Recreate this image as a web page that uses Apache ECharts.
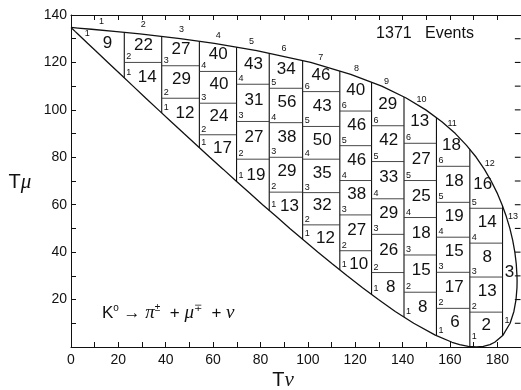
<!DOCTYPE html>
<html>
<head>
<meta charset="utf-8">
<script src="https://cdn.jsdelivr.net/npm/echarts@6/dist/echarts.min.js"></script>
<style>
  html, body { margin: 0; padding: 0; background: #fff; overflow: hidden; }
  #chart { width: 521px; height: 390px; }
</style>
</head>
<body>
<div id="chart"></div>
<script>
// Dalitz plot of K0 -> pi mu nu : T_nu (x, MeV) vs T_mu (y, MeV)

// Kinematic boundary, upper branch (from the apex to the right-most point)
const upperBoundary = [
  [0, 134.74], [2.91, 134.5], [8.65, 134], [19.33, 133], [29.06, 132], [46.1, 130],
  [60.5, 128], [78.4, 125], [101.2, 120], [118.1, 115], [131.2, 110], [141.5, 105],
  [149.8, 100], [156.6, 95], [162.3, 90], [167.0, 85], [171.1, 80], [174.5, 75],
  [177.4, 70], [179.9, 65], [182.0, 60], [183.8, 55], [185.3, 50], [186.5, 45],
  [187.4, 40], [188.0, 35], [188.3, 30], [188.35, 27.8]
];
// Kinematic boundary, lower branch (from the apex round the bottom to the right-most point)
const lowerBoundary = [
  [0, 134.74], [0.26, 134.5], [0.78, 134], [1.83, 133], [2.89, 132], [5.0, 130],
  [7.1, 128], [10.27, 125], [15.6, 120], [20.9, 115], [26.2, 110], [31.5, 105],
  [36.9, 100], [42.3, 95], [47.7, 90], [53.2, 85], [58.6, 80], [64.2, 75],
  [69.7, 70], [75.3, 65], [80.9, 60], [86.7, 55], [92.4, 50], [98.3, 45],
  [104.3, 40], [110.4, 35], [116.6, 30], [123.1, 25], [129.8, 20], [136.9, 15],
  [144.7, 10], [153.8, 5], [160.9, 2], [164.1, 1], [167.75, 0.25], [171.1, 0],
  [174.1, 0.25], [176.9, 1], [178.9, 2], [182.4, 5], [185.4, 10], [187.0, 15],
  [187.9, 20], [188.3, 25], [188.35, 27.8]
];

// Column edges along T_nu
const columnEdges = [0, 22.5, 38.3, 54.2, 69.9, 83.7, 97.8, 113.5, 126.9, 140.6, 154.3, 168.4, 182.2, 188.35];

// Bin edges along T_mu inside each column, bottom to top
const binEdges = [
  [],
  [120.0],
  [104.9, 118.6],
  [89.5, 102.8, 116.2],
  [79.2, 95.1, 110.8],
  [65.3, 80.0, 94.6, 109.1],
  [51.5, 65.1, 79.2, 93.0, 107.7],
  [40.6, 55.7, 70.2, 84.9, 99.5],
  [31.4, 47.5, 62.5, 78.2, 93.3],
  [23.1, 38.8, 54.6, 70.2, 85.9],
  [16.3, 31.5, 46.3, 61.0, 76.2],
  [14.7, 29.5, 43.8, 58.5],
  []
];

// Events in each cell, bottom to top (1371 in total)
const counts = [
  [9],
  [14, 22],
  [12, 29, 27],
  [17, 24, 40, 40],
  [19, 27, 31, 43],
  [13, 29, 38, 56, 34],
  [12, 32, 35, 50, 43, 46],
  [10, 27, 38, 46, 46, 40],
  [8, 26, 29, 33, 42, 29],
  [8, 15, 18, 25, 27, 13],
  [6, 17, 15, 19, 18, 18],
  [2, 13, 8, 14, 16],
  [3]
];

// Column numbers written along the upper boundary
const columnNames = [1, 2, 3, 4, 5, 6, 7, 8, 9, 10, 11, 12, 13];
const columnNameX = [12.9, 30.5, 46.7, 62.2, 76.2, 89.9, 105.4, 120.5, 133.2, 148.0, 160.9, 176.8, 186.6];
const columnNameY = [137.3, 135.9, 133.8, 131.2, 128.8, 126.0, 122.2, 117.6, 111.9, 104.5, 94.1, 77.5, 55.0];

// Tick labels
const xTickLabels = [0, 20, 40, 60, 80, 100, 120, 140, 160, 180];
const yTickLabels = [20, 40, 60, 80, 100, 120, 140];

// Axis ranges
const X_MAX = 190, Y_MAX = 140, TICK_STEP = 10;

// ---- geometry helpers ----
function curveAt(branch, x) {
  if (x <= branch[0][0]) return branch[0][1];
  for (let i = 1; i < branch.length; i++) {
    const a = branch[i - 1], b = branch[i];
    if (x <= b[0]) return b[0] === a[0] ? b[1] : a[1] + (b[1] - a[1]) * (x - a[0]) / (b[0] - a[0]);
  }
  return branch[branch.length - 1][1];
}
function cellCentre(xl, xr, yb, yt) {
  let area = 0, sx = 0, sy = 0;
  const n = 80;
  for (let i = 0; i < n; i++) {
    const x = xl + (i + 0.5) * (xr - xl) / n;
    const lo = Math.max(yb, curveAt(lowerBoundary, x));
    const hi = Math.min(yt, curveAt(upperBoundary, x));
    if (hi > lo) { const h = hi - lo; area += h; sx += x * h; sy += (hi + lo) / 2 * h; }
  }
  return [sx / area, sy / area];
}

// ---- derived drawing data ----
const edgeSegments = [];
for (let i = 1; i < columnEdges.length - 1; i++) {
  const x = columnEdges[i];
  edgeSegments.push([x, curveAt(lowerBoundary, x), x, curveAt(upperBoundary, x)]);
}
// short ticks along the right-hand frame (the frame line itself sits on the page edge)
for (let v = TICK_STEP; v < Y_MAX; v += TICK_STEP) {
  edgeSegments.push([X_MAX - 2.6, v, X_MAX - 0.2, v]);
}

const binSegments = [];
const countData = [];
const tagData = [];
counts.forEach((col, c) => {
  const xl = columnEdges[c], xr = columnEdges[c + 1];
  const edges = binEdges[c];
  edges.forEach(y => binSegments.push([xl, y, xr, y]));
  col.forEach((n, k) => {
    const yb = k === 0 ? -10 : edges[k - 1];
    const yt = k === edges.length ? 200 : edges[k];
    const ctr = cellCentre(xl, xr, yb, yt);
    countData.push([ctr[0], ctr[1], n]);
    let tx = xl, ty;
    if (k === 0) {
      if (c === 0) tx = 5;
      ty = Math.max(curveAt(lowerBoundary, tx), curveAt(lowerBoundary, tx + 2.5), 2.2);
    } else {
      ty = edges[k - 1];
    }
    tagData.push([tx, ty, k + 1]);
  });
});
const columnNameData = columnNames.map((s, i) => [columnNameX[i], columnNameY[i], s]);

const INK = '#111';
const FONT = '"Liberation Sans", Arial, sans-serif';

function textRenderer(size, align, vAlign, dx, dy) {
  return function (params, api) {
    const p = api.coord([api.value(0), api.value(1)]);
    return {
      type: 'text',
      x: p[0] + dx, y: p[1] + dy,
      style: {
        text: String(api.value(2)),
        font: size + 'px ' + FONT,
        fill: INK,
        align: align, verticalAlign: vAlign,
        textAlign: align, textVerticalAlign: vAlign
      }
    };
  };
}
function segmentRenderer(color, width) {
  return function (params, api) {
    const a = api.coord([api.value(0), api.value(1)]);
    const b = api.coord([api.value(2), api.value(3)]);
    return {
      type: 'line',
      shape: { x1: a[0], y1: a[1], x2: b[0], y2: b[1] },
      style: { stroke: color, lineWidth: width, fill: null }
    };
  };
}

const axisCommon = {
  type: 'value',
  splitLine: { show: false },
  axisLine: { show: true, onZero: false, lineStyle: { color: INK, width: 1 } },
  axisTick: { show: true, inside: true, length: 5, lineStyle: { color: INK, width: 1 } }
};

const chart = echarts.init(document.getElementById('chart'), null, { renderer: 'canvas' });
chart.setOption({
  animation: false,
  backgroundColor: '#fff',
  grid: { left: 71, top: 15, width: 450, height: 332, containLabel: false, outerBoundsMode: 'none' },
  xAxis: [
    Object.assign({}, axisCommon, {
      position: 'bottom', min: 0, max: X_MAX, interval: TICK_STEP,
      axisLabel: {
        margin: 6, color: INK, fontSize: 14, fontFamily: FONT,
        formatter: v => (xTickLabels.indexOf(v) >= 0 ? String(v) : '')
      }
    }),
    Object.assign({}, axisCommon, {
      position: 'top', min: 0, max: X_MAX, interval: TICK_STEP,
      axisLabel: { show: false }
    })
  ],
  yAxis: [
    Object.assign({}, axisCommon, {
      position: 'left', min: 0, max: Y_MAX, interval: TICK_STEP,
      axisLabel: {
        margin: 4, color: INK, fontSize: 14, fontFamily: FONT,
        formatter: v => (yTickLabels.indexOf(v) >= 0 ? String(v) : '')
      }
    })
  ],
  series: [
    {
      type: 'line', data: upperBoundary, showSymbol: false, symbol: 'none',
      lineStyle: { color: INK, width: 1.3 }, silent: true, z: 5
    },
    {
      type: 'line', data: lowerBoundary, showSymbol: false, symbol: 'none',
      lineStyle: { color: INK, width: 1.3 }, silent: true, z: 5
    },
    {
      type: 'custom', data: edgeSegments, renderItem: segmentRenderer(INK, 1.1),
      silent: true, z: 4
    },
    {
      type: 'custom', data: binSegments, renderItem: segmentRenderer('#333', 0.9),
      silent: true, z: 4
    },
    {
      type: 'custom', data: countData, renderItem: textRenderer(17, 'center', 'middle', 1, -3),
      silent: true, z: 6
    },
    {
      type: 'custom', data: tagData, renderItem: textRenderer(9, 'left', 'bottom', 2, -1),
      silent: true, z: 6
    },
    {
      type: 'custom', data: columnNameData, renderItem: textRenderer(9, 'center', 'middle', 0, 0),
      silent: true, z: 6
    }
  ],
  graphic: [
    {
      type: 'text', x: 20, y: 182, z: 10,
      style: {
        text: '{t|T}{g|μ}', align: 'center', verticalAlign: 'middle',
        textAlign: 'center', textVerticalAlign: 'middle', fill: INK,
        rich: {
          t: { fontSize: 20, fontFamily: FONT, fill: INK, color: INK },
          g: { fontSize: 21, fontFamily: '"Liberation Serif", serif', fontStyle: 'italic', fill: INK, color: INK }
        }
      }
    },
    {
      type: 'text', x: 283, y: 380, z: 10,
      style: {
        text: '{t|T}{g|ν}', align: 'center', verticalAlign: 'middle',
        textAlign: 'center', textVerticalAlign: 'middle', fill: INK,
        rich: {
          t: { fontSize: 20, fontFamily: FONT, fill: INK, color: INK },
          g: { fontSize: 21, fontFamily: '"Liberation Serif", serif', fontStyle: 'italic', fill: INK, color: INK }
        }
      }
    },
    {
      type: 'text', x: 425, y: 34, z: 10,
      style: {
        text: '1371   Events', font: '16px ' + FONT, fill: INK,
        align: 'center', verticalAlign: 'middle', textAlign: 'center', textVerticalAlign: 'middle'
      }
    },
    {
      type: 'text', x: 102, y: 313, z: 10,
      style: {
        text: '{a|K}{s|o}{a| → }{g|π}{s|±}{a|  + }{g|μ}{s|∓}{a|  + }{g|ν}',
        align: 'left', verticalAlign: 'middle', textAlign: 'left', textVerticalAlign: 'middle', fill: INK,
        rich: {
          a: { fontSize: 17, fontFamily: FONT, fill: INK, color: INK, lineHeight: 20 },
          g: { fontSize: 19, fontFamily: '"Liberation Serif", serif', fontStyle: 'italic', fill: INK, color: INK, lineHeight: 20 },
          s: { fontSize: 10, fontFamily: FONT, fill: INK, color: INK, verticalAlign: 'top', lineHeight: 12 }
        }
      }
    }
  ]
});
</script>
</body>
</html>
